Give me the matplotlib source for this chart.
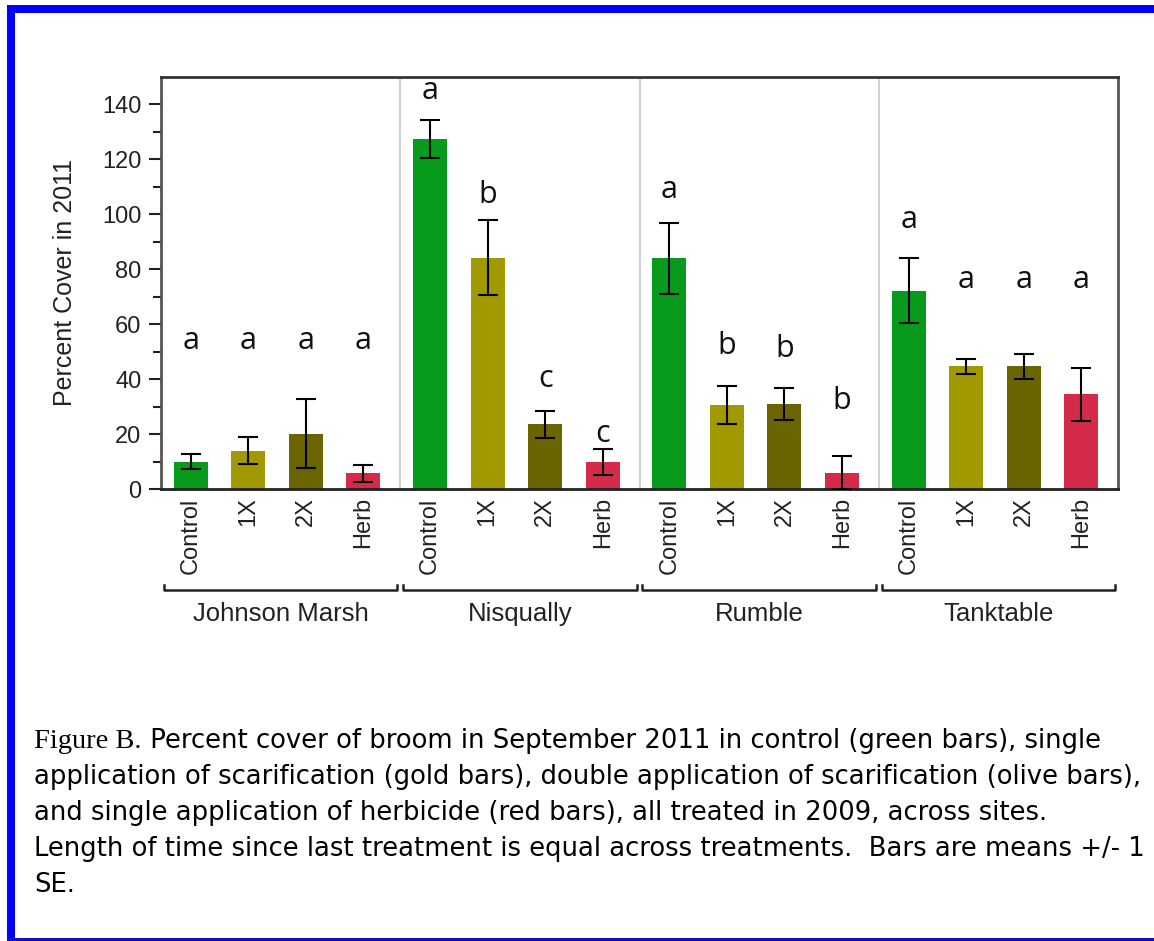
import matplotlib
matplotlib.use('Agg')
import matplotlib.pyplot as plt
from matplotlib.patches import Rectangle
import numpy as np

# data
sites = ['Johnson Marsh', 'Nisqually', 'Rumble', 'Tanktable']
treatments = ['Control', '1X', '2X', 'Herb']
means = [
    [10.0, 14.0, 20.2, 5.7],    # Johnson Marsh
    [127.5, 84.2, 23.5, 9.8],   # Nisqually
    [84.0, 30.5, 30.8, 6.0],    # Rumble
    [72.2, 44.7, 44.6, 34.5],   # Tanktable
]
errors = [
    [2.7, 4.8, 12.4, 3.2],
    [7.0, 13.6, 5.0, 4.7],
    [13.0, 6.9, 5.8, 6.0],
    [11.8, 2.7, 4.5, 9.7],
]
letters = [
    ['a', 'a', 'a', 'a'],
    ['a', 'b', 'c', 'c'],
    ['a', 'b', 'b', 'b'],
    ['a', 'a', 'a', 'a'],
]
letter_y = [
    [54, 54, 54, 54],
    [145, 107, 40, 20],
    [109, 52, 51, 32],
    [98, 76, 76, 76],
]
colors = ['#079a1c', '#a09900', '#6a6500', '#d42b4b']

caption_first = ' Percent cover of broom in September 2011 in control (green bars), single'
caption_lines = [
    "application of scarification (gold bars), double application of scarification (olive bars),",
    "and single application of herbicide (red bars), all treated in 2009, across sites.",
    "Length of time since last treatment is equal across treatments.  Bars are means +/- 1",
    "SE.",
]

W, H = 1154, 941
fig = plt.figure(figsize=(W / 100, H / 100), dpi=100, facecolor='white')

# blue frame
fig.patches.append(Rectangle((7 / W, 0), 8 / W, 1 - 5 / H, transform=fig.transFigure,
                             facecolor='#0000ff', edgecolor='none'))
fig.patches.append(Rectangle((7 / W, 1 - 13 / H), 1, 8 / H, transform=fig.transFigure,
                             facecolor='#0000ff', edgecolor='none'))
fig.patches.append(Rectangle((7 / W, 0), 1, 3 / H, transform=fig.transFigure,
                             facecolor='#1010c0', edgecolor='none'))

ax = fig.add_axes([161 / W, 1 - 489 / H, (1118 - 161) / W, (489 - 77) / H])

G = 4.16        # width of one site block in bar slots
off = 0.52      # first bar offset inside a block
tick_pos, tick_lab = [], []
trans = ax.get_xaxis_transform()
for g, site in enumerate(sites):
    x = g * G + off + np.arange(len(treatments))
    ax.bar(x, means[g], width=0.59, color=colors, edgecolor='none', zorder=2)
    ax.errorbar(x, means[g], yerr=errors[g], fmt='none', ecolor='black',
                elinewidth=1.5, capsize=7, capthick=1.5, zorder=3)
    for xi, ly, lt in zip(x, letter_y[g], letters[g]):
        ax.text(xi, ly, lt, ha='center', va='center', fontsize=22,
                family='Open Sans', color='#111111')
    tick_pos.extend(x)
    tick_lab.extend(treatments)
    if g > 0:
        ax.axvline(g * G, color='#c8c8c8', lw=1.2, zorder=1)
    # bracket under the labels
    x0, x1 = g * G + 0.05, (g + 1) * G - 0.05
    ax.plot([x0, x0, x1, x1], [-0.233, -0.245, -0.245, -0.233], color='#222222',
            lw=1.8, transform=trans, clip_on=False)
    ax.text((x0 + x1) / 2, -0.303, site, transform=trans, ha='center', va='center',
            fontsize=18.5, family='Liberation Sans', color='#222222')

ax.set_xlim(0, 4 * G)
ax.set_ylim(0, 150)
ax.set_xticks(tick_pos)
ax.set_xticklabels(tick_lab, rotation=90, fontsize=17, family='Liberation Sans',
                   color='#222222')
ax.tick_params(axis='x', length=0, pad=6)
ax.set_yticks(np.arange(0, 141, 20))
ax.set_yticks(np.arange(10, 141, 20), minor=True)
ax.tick_params(axis='y', which='major', length=9, width=1.5, labelsize=17,
               colors='#222222', pad=5)
ax.tick_params(axis='y', which='minor', length=6, width=1.5, colors='#222222')
for lab in ax.get_yticklabels():
    lab.set_family('Liberation Sans')

for name, sp in ax.spines.items():
    sp.set_linewidth(2)
    sp.set_color('#555555')
ax.spines['bottom'].set_color('#222222')
ax.spines['top'].set_color('#333333')

fig.text(65 / W, 1 - 282 / H, 'Percent Cover in 2011', rotation=90, ha='center',
         va='center', fontsize=18, family='Liberation Sans', color='#222222')

# caption: serif "Figure B." followed by sans text
fs = 18.6
base = [748, 784, 820, 856, 892]
t1 = fig.text(34 / W, 1 - base[0] / H, 'Figure B.', fontsize=20.5,
              family='Liberation Serif', va='baseline', ha='left', color='black')
fig.canvas.draw()
bb = t1.get_window_extent()
fig.text(bb.x1 / W, 1 - base[0] / H, caption_first, fontsize=fs, family='DejaVu Sans',
         va='baseline', ha='left', color='black')
for y, line in zip(base[1:], caption_lines):
    fig.text(34 / W, 1 - y / H, line, fontsize=fs, family='DejaVu Sans',
             va='baseline', ha='left', color='black')

fig.savefig('out.png', dpi=100, facecolor='white')
